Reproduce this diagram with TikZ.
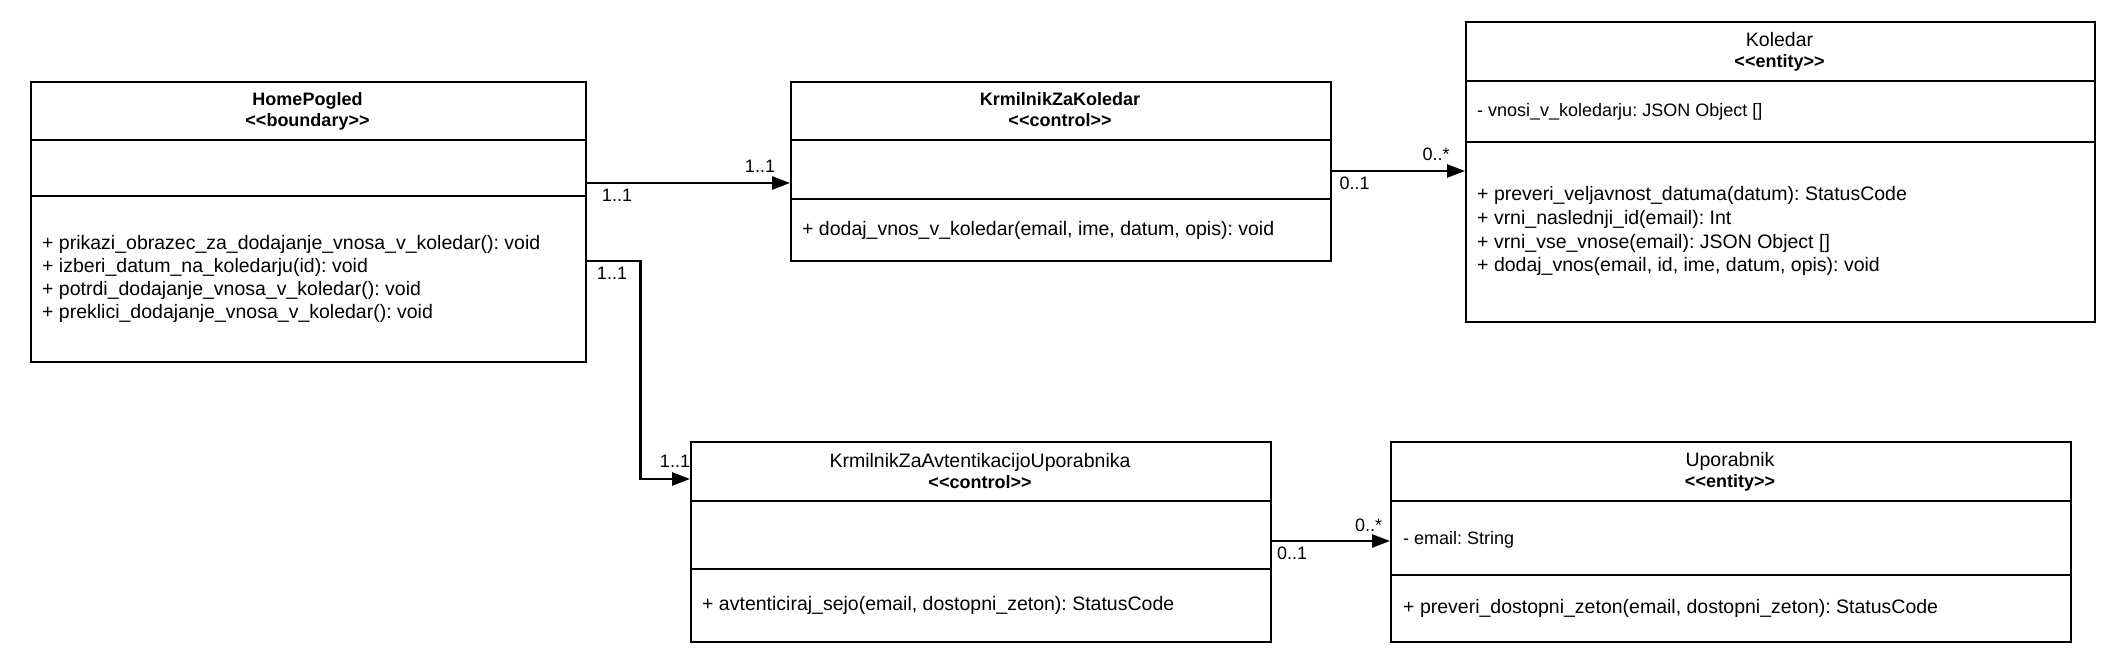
\documentclass[tikz,border=0pt]{standalone}
\usepackage{fontspec}
\setmainfont{Liberation Sans}
\usetikzlibrary{arrows.meta}
\frenchspacing
\newcommand{\stereo}[1]{{<}{<}#1{>}{>}}
\tikzset{
  classbox/.style={draw=black, line width=2.4pt, anchor=north west, inner sep=0pt, fill=white},
  divline/.style={draw=black, line width=2.4pt},
  mtext/.style={anchor=base west, inner sep=0pt, font=\fontsize{19.5}{23}\selectfont},
  atext/.style={anchor=base west, inner sep=0pt, font=\fontsize{18}{22}\selectfont},
  ttext/.style={anchor=base, inner sep=0pt, font=\fontsize{19.5}{23}\selectfont},
  btext/.style={anchor=base, inner sep=0pt, font=\fontsize{18}{22}\selectfont\bfseries},
  mult/.style={inner sep=0pt, font=\fontsize{18}{22}\selectfont},
  conn/.style={draw=black, line width=2.4pt, -{Triangle[length=18pt,width=13pt]}}
}
\begin{document}
\begin{tikzpicture}[x=1pt,y=-1pt]
\useasboundingbox (0,0) rectangle (2121,669);

% HomePogled
\node[classbox, minimum width=555pt, minimum height=280pt] (home) at (30,81) {};
\draw[divline] (home.west |- 0,140) -- (home.east |- 0,140);
\draw[divline] (home.west |- 0,196) -- (home.east |- 0,196);
\node[btext] (homet1) at (307.5,105) {HomePogled};
\node[btext] (homet2) at (307.5,126.5) {\stereo{boundary}};
\node[mtext] (homem1) at (42,249) {+ prikazi\_obrazec\_za\_dodajanje\_vnosa\_v\_koledar(): void};
\node[mtext] (homem2) at (42,272) {+ izberi\_datum\_na\_koledarju(id): void};
\node[mtext] (homem3) at (42,295) {+ potrdi\_dodajanje\_vnosa\_v\_koledar(): void};
\node[mtext] (homem4) at (42,318) {+ preklici\_dodajanje\_vnosa\_v\_koledar(): void};

% KrmilnikZaKoledar
\node[classbox, minimum width=540pt, minimum height=179pt] (kzk) at (790,81) {};
\draw[divline] (kzk.west |- 0,140) -- (kzk.east |- 0,140);
\draw[divline] (kzk.west |- 0,199) -- (kzk.east |- 0,199);
\node[btext] (kzkt1) at (1060,106) {KrmilnikZaKoledar};
\node[btext] (kzkt2) at (1060,126.5) {\stereo{control}};
\node[mtext] (kzkm1) at (802,235) {+ dodaj\_vnos\_v\_koledar(email, ime, datum, opis): void};

% Koledar
\node[classbox, minimum width=629pt, minimum height=300pt] (kol) at (1465,21) {};
\draw[divline] (kol.west |- 0,81) -- (kol.east |- 0,81);
\draw[divline] (kol.west |- 0,142) -- (kol.east |- 0,142);
\node[ttext] (kolt1) at (1779.5,46.5) {Koledar};
\node[btext] (kolt2) at (1779.5,67) {\stereo{entity}};
\node[atext] (kola1) at (1477,116.5) {- vnosi\_v\_koledarju: JSON Object []};
\node[mtext] (kolm1) at (1477,200.5) {+ preveri\_veljavnost\_datuma(datum): StatusCode};
\node[mtext] (kolm2) at (1477,224.5) {+ vrni\_naslednji\_id(email): Int};
\node[mtext] (kolm3) at (1477,248) {+ vrni\_vse\_vnose(email): JSON Object []};
\node[mtext] (kolm4) at (1477,271.5) {+ dodaj\_vnos(email, id, ime, datum, opis): void};

% KrmilnikZaAvtentikacijoUporabnika
\node[classbox, minimum width=580pt, minimum height=200pt] (kza) at (690,441) {};
\draw[divline] (kza.west |- 0,501) -- (kza.east |- 0,501);
\draw[divline] (kza.west |- 0,569) -- (kza.east |- 0,569);
\node[ttext] (kzat1) at (980,467) {KrmilnikZaAvtentikacijoUporabnika};
\node[btext] (kzat2) at (980,488) {\stereo{control}};
\node[mtext] (kzam1) at (702,610) {+ avtenticiraj\_sejo(email, dostopni\_zeton): StatusCode};

% Uporabnik
\node[classbox, minimum width=680pt, minimum height=200pt] (upo) at (1390,441) {};
\draw[divline] (upo.west |- 0,501) -- (upo.east |- 0,501);
\draw[divline] (upo.west |- 0,575) -- (upo.east |- 0,575);
\node[ttext] (upot1) at (1730,466.5) {Uporabnik};
\node[btext] (upot2) at (1730,487) {\stereo{entity}};
\node[atext] (upoa1) at (1403,544.5) {- email: String};
\node[mtext] (upom1) at (1403,613.5) {+ preveri\_dostopni\_zeton(email, dostopni\_zeton): StatusCode};

% connectors
\draw[conn] (home.east |- 0,183) -- (kzk.west |- 0,183);
\draw[conn] (home.east |- 0,261) -- ++(53,0) |- (kza.west |- 0,479);
\draw[conn] (kzk.east |- 0,171) -- (kol.west |- 0,171);
\draw[conn] (kza.east |- 0,541) -- (upo.west |- 0,541);

% multiplicities
\node[mult] (l1s) at (617,195) {1..1};
\node[mult] (l1t) at (760,166) {1..1};
\node[mult] (l2s) at (612,273) {1..1};
\node[mult] (l2t) at (675,461.5) {1..1};
\node[mult] (l3s) at (1354.5,183) {0..1};
\node[mult] (l3t) at (1436,154) {0..*};
\node[mult] (l4s) at (1292,553) {0..1};
\node[mult] (l4t) at (1368.5,525) {0..*};
\end{tikzpicture}
\end{document}
